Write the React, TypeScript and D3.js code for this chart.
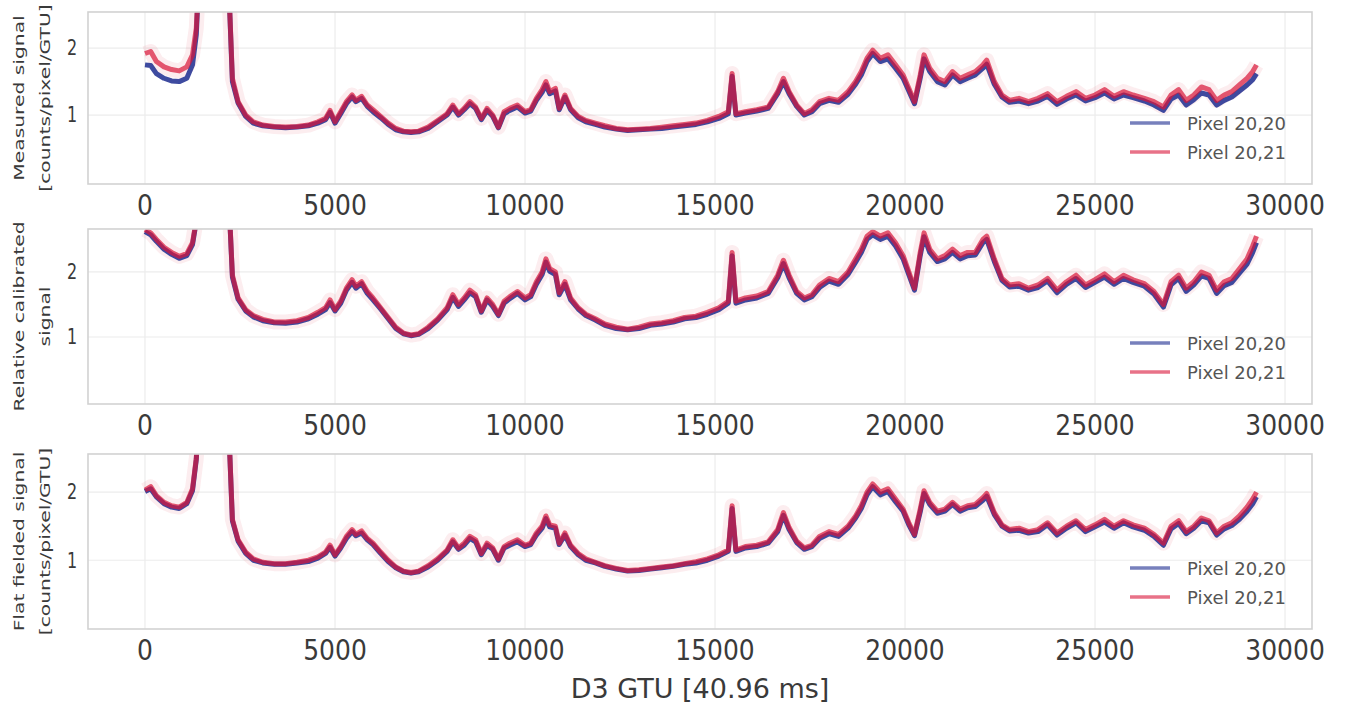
import React from "react";
import * as d3 from "d3";

const GTU = [
  0, 150, 300, 500, 700, 900, 1100, 1250, 1350, 1450,
  1800, 2150, 2200, 2300, 2450, 2650, 2850, 3100, 3400, 3700,
  4000, 4300, 4550, 4750, 4870, 5000, 5150, 5300, 5450, 5550,
  5700, 5850, 6000, 6200, 6400, 6600, 6800, 7000, 7200, 7450,
  7700, 7950, 8100, 8250, 8400, 8550, 8700, 8850, 9000, 9150,
  9300, 9450, 9600, 9800, 10000, 10150, 10300, 10450, 10550, 10650,
  10800, 10900, 11050, 11200, 11400, 11600, 11850, 12100, 12400, 12700,
  13000, 13300, 13600, 13900, 14200, 14500, 14800, 15100, 15350, 15450,
  15550, 15800, 16100, 16400, 16650, 16800, 16950, 17150, 17350, 17550,
  17750, 18000, 18250, 18500, 18700, 18850, 19000, 19150, 19350, 19550,
  19750, 19950, 20100, 20250, 20400, 20500, 20650, 20850, 21050, 21250,
  21450, 21650, 21850, 22050, 22150, 22350, 22550, 22750, 23000, 23250,
  23500, 23750, 24000, 24250, 24500, 24750, 25000, 25250, 25500, 25750,
  26000, 26300, 26550, 26800, 27000, 27200, 27400, 27600, 27800, 28000,
  28200, 28400, 28600, 28800, 29000, 29150, 29250,
];

const measured2021 = [
  1.92, 1.95, 1.8, 1.72, 1.68, 1.66, 1.72, 1.9, 2.3, 3.5,
  6, 6, 3.0, 1.55, 1.2, 1.0, 0.9, 0.85, 0.83, 0.82,
  0.83, 0.85, 0.9, 0.95, 1.07, 0.9, 1.05, 1.2, 1.3, 1.22,
  1.28, 1.15, 1.08, 0.98, 0.88, 0.8, 0.76, 0.75, 0.76, 0.82,
  0.92, 1.02, 1.15, 1.02, 1.1, 1.2, 1.12, 0.95, 1.1, 1.0,
  0.82, 1.05, 1.1, 1.15, 1.05, 1.08, 1.25, 1.38, 1.5, 1.35,
  1.4, 1.1, 1.3, 1.1, 0.98, 0.92, 0.88, 0.84, 0.8, 0.78,
  0.79, 0.8, 0.82, 0.84, 0.86, 0.88, 0.92, 0.98, 1.05, 1.62,
  1.02, 1.05, 1.08, 1.12, 1.35, 1.55, 1.35, 1.15, 1.02, 1.08,
  1.2, 1.25, 1.22, 1.35, 1.5, 1.65, 1.85, 1.97, 1.85, 1.9,
  1.75, 1.6, 1.4, 1.2, 1.6, 1.9, 1.7, 1.55, 1.5, 1.65,
  1.55, 1.6, 1.65, 1.75, 1.82, 1.5, 1.3, 1.22, 1.25, 1.2,
  1.25, 1.32, 1.2, 1.28, 1.35, 1.25, 1.3, 1.38, 1.28, 1.35,
  1.3, 1.25, 1.2, 1.12, 1.3, 1.38, 1.22, 1.3, 1.42, 1.38,
  1.22, 1.3, 1.35, 1.45, 1.55, 1.65, 1.75,
];
const measured2020 = [
  1.75, 1.74, 1.62, 1.55, 1.51, 1.5, 1.55, 1.75, 2.2, 3.5,
  6, 6, 3.0, 1.5, 1.18, 0.98, 0.88, 0.84, 0.82, 0.81,
  0.82, 0.84, 0.88, 0.93, 1.04, 0.88, 1.02, 1.17, 1.27, 1.2,
  1.25, 1.13, 1.05, 0.96, 0.86, 0.78, 0.75, 0.74, 0.75, 0.8,
  0.9, 1.0, 1.12, 1.0, 1.08, 1.17, 1.1, 0.93, 1.07, 0.98,
  0.81, 1.02, 1.07, 1.12, 1.03, 1.06, 1.22, 1.34, 1.45, 1.32,
  1.36, 1.08, 1.27, 1.08, 0.96, 0.9, 0.86, 0.82, 0.79, 0.77,
  0.78, 0.79, 0.8, 0.82, 0.84, 0.86, 0.9, 0.95, 1.02, 1.58,
  1.0, 1.03, 1.06, 1.1, 1.32, 1.5, 1.32, 1.13, 1.0, 1.05,
  1.17, 1.22, 1.19, 1.31, 1.46, 1.6, 1.8, 1.92, 1.8, 1.84,
  1.7, 1.55, 1.36, 1.17, 1.55, 1.84, 1.65, 1.5, 1.45, 1.6,
  1.5, 1.55, 1.6, 1.7, 1.76, 1.46, 1.27, 1.19, 1.21, 1.17,
  1.21, 1.28, 1.16, 1.24, 1.3, 1.21, 1.26, 1.33, 1.24, 1.3,
  1.26, 1.21, 1.15, 1.07, 1.24, 1.3, 1.15, 1.23, 1.33, 1.3,
  1.15, 1.22, 1.27, 1.36, 1.45, 1.53, 1.62,
];

const relative2021 = [
  2.65, 2.6, 2.5, 2.38, 2.3, 2.24, 2.28, 2.45, 2.8, 3.5,
  6, 6, 3.2, 1.95, 1.6, 1.42, 1.33, 1.27, 1.23, 1.23,
  1.25, 1.3, 1.38, 1.45, 1.57, 1.42, 1.55, 1.75, 1.88, 1.78,
  1.85, 1.7, 1.6, 1.45, 1.3, 1.15, 1.06, 1.03, 1.05, 1.15,
  1.28, 1.45, 1.65, 1.5, 1.6, 1.72, 1.65, 1.4, 1.6, 1.5,
  1.35, 1.55, 1.62, 1.7, 1.6, 1.65, 1.85, 2.0, 2.2, 2.05,
  2.0, 1.68, 1.85, 1.6, 1.45, 1.35, 1.28, 1.2, 1.15, 1.12,
  1.15, 1.2, 1.22, 1.25, 1.3, 1.32, 1.38, 1.45, 1.55, 2.3,
  1.55, 1.6, 1.63, 1.7, 1.95, 2.18, 1.95, 1.7, 1.6, 1.65,
  1.8, 1.9, 1.85, 2.0, 2.2, 2.35, 2.55, 2.62, 2.55, 2.6,
  2.45, 2.25, 2.0, 1.75, 2.3, 2.6, 2.35, 2.2, 2.25, 2.35,
  2.25, 2.3, 2.3, 2.5, 2.55, 2.2, 1.9, 1.8, 1.82, 1.75,
  1.8, 1.9, 1.72, 1.85, 1.95, 1.8, 1.88, 1.97, 1.85, 1.95,
  1.88, 1.82, 1.7, 1.5, 1.85, 1.95, 1.75, 1.85, 2.0, 1.95,
  1.72, 1.85, 1.9, 2.05, 2.2, 2.4, 2.55,
];
const relative2020 = [
  2.62, 2.57, 2.47, 2.35, 2.27, 2.21, 2.25, 2.42, 2.78, 3.5,
  6, 6, 3.2, 1.92, 1.58, 1.4, 1.31, 1.25, 1.22, 1.21,
  1.23, 1.28, 1.35, 1.42, 1.53, 1.4, 1.52, 1.72, 1.84, 1.75,
  1.82, 1.67, 1.57, 1.43, 1.28, 1.13, 1.05, 1.02, 1.04, 1.13,
  1.26, 1.42, 1.61, 1.47, 1.57, 1.68, 1.62, 1.38, 1.57, 1.47,
  1.33, 1.52, 1.59, 1.67, 1.57, 1.62, 1.81, 1.96, 2.15, 2.01,
  1.96, 1.65, 1.81, 1.57, 1.43, 1.33, 1.26, 1.18, 1.13, 1.11,
  1.13, 1.18, 1.2, 1.23, 1.28, 1.3, 1.35, 1.42, 1.52, 2.25,
  1.52, 1.57, 1.6, 1.67, 1.91, 2.13, 1.91, 1.67, 1.57, 1.62,
  1.76, 1.86, 1.81, 1.96, 2.15, 2.3, 2.5, 2.57, 2.5, 2.55,
  2.4, 2.2, 1.96, 1.72, 2.25, 2.54, 2.3, 2.16, 2.2, 2.3,
  2.2, 2.25, 2.26, 2.45, 2.5, 2.16, 1.87, 1.77, 1.78, 1.72,
  1.76, 1.86, 1.68, 1.81, 1.9, 1.76, 1.84, 1.92, 1.81, 1.9,
  1.84, 1.78, 1.66, 1.46, 1.8, 1.9, 1.7, 1.8, 1.94, 1.9,
  1.67, 1.79, 1.84, 1.98, 2.12, 2.3, 2.45,
];

const flat2021 = [
  2.03, 2.08, 1.95, 1.85, 1.8, 1.78, 1.85, 2.05, 2.5, 3.5,
  6, 6, 3.0, 1.6, 1.3, 1.12, 1.02, 0.97, 0.95, 0.95,
  0.97, 1.0, 1.05, 1.12, 1.22, 1.08, 1.2, 1.35, 1.45, 1.38,
  1.43, 1.32, 1.25, 1.12, 1.0, 0.9, 0.84, 0.82, 0.84, 0.92,
  1.02, 1.15, 1.3, 1.18, 1.25, 1.35, 1.3, 1.1, 1.25, 1.18,
  1.02, 1.2, 1.25, 1.3, 1.22, 1.25, 1.4, 1.5, 1.65, 1.52,
  1.5, 1.25, 1.4, 1.22, 1.1, 1.02, 0.97, 0.92, 0.88, 0.85,
  0.86, 0.88, 0.9, 0.92, 0.95, 0.98, 1.02, 1.08, 1.15, 1.8,
  1.15, 1.2, 1.22, 1.27, 1.45, 1.7, 1.48, 1.28, 1.18, 1.22,
  1.35, 1.42, 1.38, 1.5, 1.65, 1.8, 2.0, 2.12, 2.0, 2.05,
  1.9, 1.75, 1.55, 1.38, 1.75, 2.02, 1.85, 1.72, 1.75, 1.85,
  1.75, 1.8, 1.82, 1.92, 1.98, 1.7, 1.52, 1.45, 1.47, 1.42,
  1.45, 1.55, 1.4, 1.5, 1.58, 1.45, 1.52, 1.6, 1.5, 1.58,
  1.52, 1.47, 1.38, 1.25, 1.5, 1.58, 1.42, 1.5, 1.62, 1.58,
  1.4, 1.5, 1.55, 1.65, 1.78, 1.9, 2.0,
];
const flat2020 = [
  2.01, 2.05, 1.93, 1.83, 1.78, 1.76, 1.83, 2.02, 2.48, 3.5,
  6, 6, 3.0, 1.58, 1.28, 1.1, 1.0, 0.96, 0.94, 0.94,
  0.96, 0.98, 1.03, 1.1, 1.19, 1.06, 1.18, 1.32, 1.42, 1.36,
  1.4, 1.3, 1.23, 1.1, 0.98, 0.89, 0.83, 0.81, 0.83, 0.9,
  1.0, 1.13, 1.27, 1.16, 1.22, 1.32, 1.27, 1.08, 1.22, 1.16,
  1.0, 1.18, 1.22, 1.27, 1.2, 1.23, 1.37, 1.47, 1.61, 1.49,
  1.47, 1.23, 1.37, 1.2, 1.08, 1.0, 0.96, 0.91, 0.87, 0.84,
  0.85, 0.87, 0.89, 0.91, 0.94, 0.96, 1.0, 1.06, 1.13, 1.76,
  1.13, 1.18, 1.2, 1.25, 1.42, 1.66, 1.45, 1.26, 1.16, 1.2,
  1.32, 1.39, 1.35, 1.47, 1.62, 1.76, 1.96, 2.08, 1.96, 2.01,
  1.86, 1.72, 1.52, 1.36, 1.71, 1.98, 1.82, 1.69, 1.72, 1.82,
  1.72, 1.77, 1.79, 1.88, 1.94, 1.67, 1.5, 1.43, 1.44, 1.4,
  1.42, 1.52, 1.37, 1.47, 1.55, 1.42, 1.49, 1.56, 1.47, 1.55,
  1.49, 1.44, 1.35, 1.22, 1.46, 1.54, 1.39, 1.47, 1.58, 1.55,
  1.37, 1.46, 1.51, 1.6, 1.72, 1.83, 1.93,
];

const X_TICKS = [0, 5000, 10000, 15000, 20000, 25000, 30000];
const Y_TICKS = [1, 2];
const SERIES_NAMES = ["Pixel 20,20", "Pixel 20,21"];
const X_LABEL = "D3 GTU [40.96 ms]";
const Y_LABELS_1 = ["Measured signal", "[counts/pixel/GTU]"];
const Y_LABELS_2 = ["Relative calibrated", "signal"];
const Y_LABELS_3 = ["Flat fielded signal", "[counts/pixel/GTU]"];

const BLUE = "#1c2b8f";
const RED = "#d81438";
const TEXT = "#3a3a3a";

type PanelSpec = {
  id: string;
  top: number;
  bottom: number;
  yDomain: [number, number];
  blue: number[];
  red: number[];
  labels: string[];
};

const PANELS: PanelSpec[] = [
  { id: "p1", top: 12, bottom: 184, yDomain: [-0.03, 2.54], blue: measured2020, red: measured2021, labels: Y_LABELS_1 },
  { id: "p2", top: 229, bottom: 404, yDomain: [-0.03, 2.66], blue: relative2020, red: relative2021, labels: Y_LABELS_2 },
  { id: "p3", top: 454, bottom: 629, yDomain: [-0.01, 2.56], blue: flat2020, red: flat2021, labels: Y_LABELS_3 },
];

const LEFT = 88;
const RIGHT = 1312;

function Panel({ p, x }: { p: PanelSpec; x: d3.ScaleLinear<number, number> }) {
  const y = d3.scaleLinear().domain(p.yDomain).range([p.bottom, p.top]);
  const line = d3
    .line<number>()
    .x((_, i) => x(GTU[i]))
    .y((d) => y(d));
  const midY = (p.top + p.bottom) / 2;
  const legendRows = [p.bottom - 61, p.bottom - 32];
  return (
    <g>
      <defs>
        <clipPath id={`clip-${p.id}`}>
          <rect x={LEFT} y={p.top} width={RIGHT - LEFT} height={p.bottom - p.top} />
        </clipPath>
      </defs>
      <rect x={LEFT} y={p.top} width={RIGHT - LEFT} height={p.bottom - p.top} fill="#ffffff" />
      {X_TICKS.map((t) => (
        <line key={`gx${t}`} x1={x(t)} x2={x(t)} y1={p.top} y2={p.bottom} stroke="#ececec" strokeWidth={1.2} />
      ))}
      {Y_TICKS.map((t) => (
        <line key={`gy${t}`} x1={LEFT} x2={RIGHT} y1={y(t)} y2={y(t)} stroke="#ececec" strokeWidth={1.2} />
      ))}
      <g clipPath={`url(#clip-${p.id})`}>
        <path d={line(p.red) || ""} fill="none" stroke={RED} strokeOpacity={0.08} strokeWidth={15} strokeLinejoin="round" />
        <path d={line(p.blue) || ""} fill="none" stroke={BLUE} strokeOpacity={0.85} strokeWidth={5} strokeLinejoin="round" />
        <path d={line(p.red) || ""} fill="none" stroke={RED} strokeOpacity={0.7} strokeWidth={5} strokeLinejoin="round" />
      </g>
      <rect x={LEFT} y={p.top} width={RIGHT - LEFT} height={p.bottom - p.top} fill="none" stroke="#d2d2d2" strokeWidth={1.6} />
      {Y_TICKS.map((t) => (
        <text
          key={`yt${t}`}
          transform={`translate(${72},${y(t)}) scale(1,1.3)`}
          textAnchor="middle"
          dominantBaseline="central"
          fontSize={16}
          fill={TEXT}
          fontFamily="DejaVu Sans"
        >
          {t}
        </text>
      ))}
      {X_TICKS.map((t) => (
        <text
          key={`xt${t}`}
          transform={`translate(${x(t)},${p.bottom + 21}) scale(1,1.15)`}
          textAnchor="middle"
          dominantBaseline="central"
          fontSize={25}
          fill={TEXT}
          fontFamily="DejaVu Sans"
        >
          {t}
        </text>
      ))}
      <text
        transform={`translate(19,${midY}) rotate(-90) scale(1.45,1)`}
        textAnchor="middle"
        dominantBaseline="central"
        fontSize={14}
        fill={TEXT}
        fontFamily="DejaVu Sans"
      >
        {p.labels[0]}
      </text>
      <text
        transform={`translate(45,${midY}) rotate(-90) scale(1.45,1)`}
        textAnchor="middle"
        dominantBaseline="central"
        fontSize={14}
        fill={TEXT}
        fontFamily="DejaVu Sans"
      >
        {p.labels[1]}
      </text>
      {SERIES_NAMES.map((name, i) => (
        <g key={name}>
          <line
            x1={1130}
            x2={1170}
            y1={legendRows[i]}
            y2={legendRows[i]}
            stroke={i === 0 ? BLUE : RED}
            strokeOpacity={0.6}
            strokeWidth={3.5}
          />
          <text
            x={1187}
            y={legendRows[i]}
            dominantBaseline="central"
            fontSize={18}
            fill="#555"
            fontFamily="DejaVu Sans"
          >
            {name}
          </text>
        </g>
      ))}
    </g>
  );
}

export default function App() {
  const x = d3.scaleLinear().domain([-1500, 30710]).range([LEFT, RIGHT]);
  return (
    <svg
      width={1364}
      height={706}
      viewBox="0 0 1364 706"
      style={{ position: "absolute", left: 0, top: 0, display: "block", background: "#ffffff" }}
    >
      <rect x={0} y={0} width={1364} height={706} fill="#ffffff" />
      {PANELS.map((p) => (
        <Panel key={p.id} p={p} x={x} />
      ))}
      <text
        x={(LEFT + RIGHT) / 2}
        y={688}
        textAnchor="middle"
        dominantBaseline="central"
        fontSize={27}
        fill={TEXT}
        fontFamily="DejaVu Sans"
      >
        {X_LABEL}
      </text>
    </svg>
  );
}
